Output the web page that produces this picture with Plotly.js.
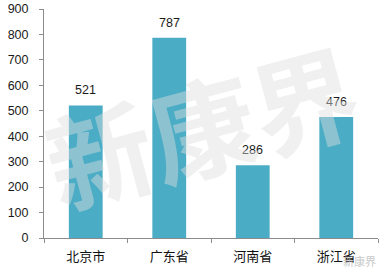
<!DOCTYPE html>
<html>
<head>
<meta charset="utf-8">
<script src="https://cdn.plot.ly/plotly-3.0.1.min.js"></script>
<style>
  html, body { margin: 0; padding: 0; background: #fff; }
  #chart { width: 381px; height: 274px; }
</style>
</head>
<body>
<div id="chart"></div>
<script>
// Provinces and their counts
const provinces = ['北京市', '广东省', '河南省', '浙江省'];
const counts = [521, 787, 286, 476];
const yTicks = [0, 100, 200, 300, 400, 500, 600, 700, 800, 900];

const barColor = '#4bacc6';
const axisColor = '#8c8c8c';
const textFont = 'Liberation Sans, Arial, sans-serif';
const cjkFont = '"Noto Sans CJK SC", sans-serif';

const trace = {
  type: 'bar',
  x: provinces,
  y: counts,
  marker: { color: barColor, line: { width: 0 } },
  hoverinfo: 'skip'
};

// value labels sitting above each bar
const valueLabels = provinces.map((p, i) => ({
  x: p, y: counts[i], xref: 'x', yref: 'y',
  text: String(counts[i]),
  showarrow: false, yanchor: 'bottom', yshift: 6,
  font: { family: textFont, size: 12.5, color: '#1a1a1a' }
}));

// brand watermark across the plot, and the account tag at the corner
const watermark = [
  {
    xref: 'paper', yref: 'paper', x: 0.47, y: 0.5,
    text: '<b>新康界</b>', showarrow: false, textangle: -15,
    font: { family: cjkFont, size: 106, color: 'rgba(222,222,222,0.45)' }
  },
  {
    xref: 'paper', yref: 'paper', x: 1.0, y: -0.1,
    xanchor: 'right', yanchor: 'middle',
    text: '新康界', showarrow: false,
    font: { family: cjkFont, size: 11, color: 'rgba(185,185,185,0.8)' }
  }
];

const layout = {
  width: 381, height: 274,
  margin: { l: 44, r: 3, t: 9, b: 36 },
  paper_bgcolor: '#fff', plot_bgcolor: '#fff',
  bargap: 0.595,
  showlegend: false,
  xaxis: {
    type: 'category',
    showline: true, linecolor: axisColor, linewidth: 1,
    ticks: 'outside', tickson: 'boundaries', ticklen: 4, tickcolor: axisColor,
    showgrid: false, zeroline: false,
    ticklabelstandoff: 6,
    tickfont: { family: cjkFont, size: 13, color: '#111' }
  },
  yaxis: {
    range: [0, 900],
    tickvals: yTicks,
    ticktext: yTicks.map(String),
    showline: true, linecolor: axisColor, linewidth: 1,
    ticks: 'outside', ticklen: 4, tickcolor: axisColor,
    showgrid: false, zeroline: false,
    ticklabelstandoff: 8,
    tickfont: { family: textFont, size: 12.5, color: '#1a1a1a' }
  },
  annotations: valueLabels.concat(watermark)
};

Plotly.newPlot('chart', [trace], layout, { staticPlot: true, displayModeBar: false });
</script>
</body>
</html>
